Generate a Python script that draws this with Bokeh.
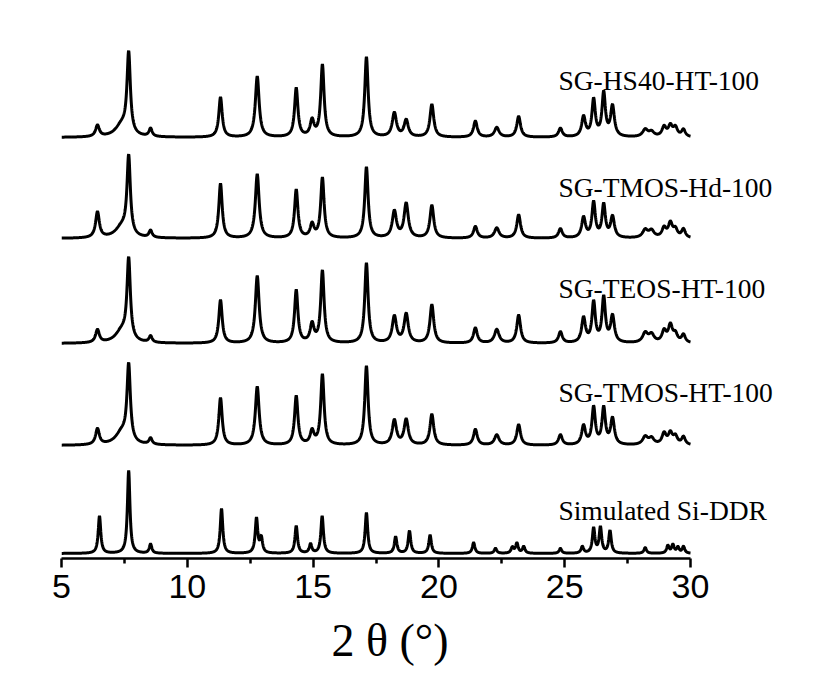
import numpy as np
from bokeh.plotting import figure
from bokeh.models import Range1d, FixedTicker, Label, Title
from bokeh.embed import file_html
from bokeh.resources import INLINE

# ---- data ----
series_names = ["SG-HS40-HT-100", "SG-TMOS-Hd-100", "SG-TEOS-HT-100",
                "SG-TMOS-HT-100", "Simulated Si-DDR"]

# peak positions (2θ) shared by the four measured patterns
exp_pos = [6.43, 7.40, 7.67, 8.54, 11.32, 12.78, 14.33, 14.96, 15.37, 17.12,
           18.23, 18.70, 19.72, 21.45, 22.30, 23.17, 24.83, 25.75, 26.15, 26.55,
           26.90, 28.20, 28.45, 28.95, 29.20, 29.40, 29.72]
exp_fwhm = [0.18, 0.60, 0.16, 0.15, 0.16, 0.18, 0.16, 0.18, 0.16, 0.16,
            0.20, 0.20, 0.18, 0.18, 0.22, 0.18, 0.18, 0.18, 0.16, 0.16,
            0.18, 0.25, 0.25, 0.20, 0.20, 0.20, 0.18]

hs40_int = [0.14, 0.15, 1.00, 0.10, 0.50, 0.76, 0.61, 0.20, 0.90, 1.00,
            0.30, 0.21, 0.41, 0.20, 0.12, 0.26, 0.11, 0.25, 0.46, 0.54,
            0.38, 0.09, 0.06, 0.12, 0.13, 0.11, 0.09]
tmos_hd_int = [0.33, 0.14, 1.00, 0.09, 0.70, 0.82, 0.62, 0.17, 0.77, 0.91,
               0.34, 0.44, 0.42, 0.15, 0.13, 0.30, 0.12, 0.26, 0.45, 0.42,
               0.27, 0.10, 0.09, 0.12, 0.18, 0.10, 0.11]
teos_int = [0.16, 0.15, 1.00, 0.08, 0.54, 0.84, 0.66, 0.23, 0.90, 1.00,
            0.33, 0.36, 0.48, 0.19, 0.17, 0.35, 0.14, 0.31, 0.50, 0.56,
            0.33, 0.12, 0.10, 0.14, 0.21, 0.10, 0.10]
tmos_ht_int = [0.20, 0.16, 0.96, 0.08, 0.60, 0.74, 0.62, 0.17, 0.89, 1.00,
               0.31, 0.32, 0.39, 0.20, 0.13, 0.26, 0.13, 0.24, 0.47, 0.46,
               0.33, 0.10, 0.08, 0.14, 0.14, 0.10, 0.10]

sim_pos = [6.51, 7.67, 8.54, 11.36, 12.75, 12.94, 14.33, 14.90, 15.36, 17.12,
           18.28, 18.83, 19.65, 21.38, 22.25, 22.92, 23.10, 23.37, 24.83, 25.70,
           26.15, 26.42, 26.80, 28.20, 29.10, 29.30, 29.50, 29.72]
sim_int = [0.45, 1.00, 0.11, 0.54, 0.42, 0.18, 0.33, 0.11, 0.45, 0.49,
           0.20, 0.27, 0.22, 0.13, 0.06, 0.07, 0.12, 0.08, 0.06, 0.08,
           0.30, 0.31, 0.27, 0.07, 0.09, 0.10, 0.07, 0.08]
sim_fwhm = 0.12

tick_values = [5, 10, 15, 20, 25, 30]
minor_tick_values = [7.5, 12.5, 17.5, 22.5, 27.5]
x_label = "2 θ (°)"

# ---- layout (screen-like units: 1 y unit = 1 px) ----
baselines = [421, 320, 215, 113, 5]
scales = [80, 78, 80, 79, 83]
label_y = [478, 371, 270, 166, 48]
label_x = 24.75

x = np.linspace(5, 30, 2501)


def profile(pos, inten, fwhm):
    y = np.zeros_like(x)
    if np.isscalar(fwhm):
        fwhm = [fwhm] * len(pos)
    for c, h, w in zip(pos, inten, fwhm):
        g = w / 2.0
        y += h * g * g / ((x - c) ** 2 + g * g)
    return y


curves = [profile(exp_pos, hs40_int, exp_fwhm),
          profile(exp_pos, tmos_hd_int, exp_fwhm),
          profile(exp_pos, teos_int, exp_fwhm),
          profile(exp_pos, tmos_ht_int, exp_fwhm),
          profile(sim_pos, sim_int, sim_fwhm)]

p = figure(width=823, height=686, output_backend="svg", toolbar_location=None,
           x_range=Range1d(5, 5 + 762 / 25.16), y_range=Range1d(0, 538),
           y_axis_location=None, min_border_left=61, min_border_right=0,
           min_border_top=20, min_border_bottom=128)
p.outline_line_color = None
p.xgrid.visible = False
p.ygrid.visible = False
p.background_fill_color = "white"
p.border_fill_color = "white"

for name, cur, base, sc, ly in zip(series_names, curves, baselines, scales, label_y):
    p.line(x, base + sc * cur, line_color="black", line_width=3)
    p.add_layout(Label(x=label_x, y=ly, text=name, text_font="Liberation Serif",
                       text_font_size="27.5px", text_color="black",
                       text_baseline="alphabetic", text_align="left"))

ax = p.xaxis[0]
ax.bounds = (5, 30)
ax.ticker = FixedTicker(ticks=tick_values, minor_ticks=minor_tick_values)
ax.axis_line_color = "black"
ax.axis_line_width = 2.5
ax.major_tick_line_color = "black"
ax.major_tick_line_width = 2.5
ax.major_tick_in = 0
ax.major_tick_out = 9
ax.minor_tick_line_color = "black"
ax.minor_tick_line_width = 2.5
ax.minor_tick_in = 0
ax.minor_tick_out = 5
ax.major_label_text_font = "Liberation Sans"
ax.major_label_text_font_size = "34px"
ax.major_label_text_color = "black"
ax.major_label_standoff = 7

p.add_layout(Title(text=x_label, align="left", offset=270, standoff=24,
                   text_font="Liberation Serif", text_font_size="46px",
                   text_font_style="normal", text_color="black"), "below")

open("out.html", "w").write(file_html(p, INLINE))
